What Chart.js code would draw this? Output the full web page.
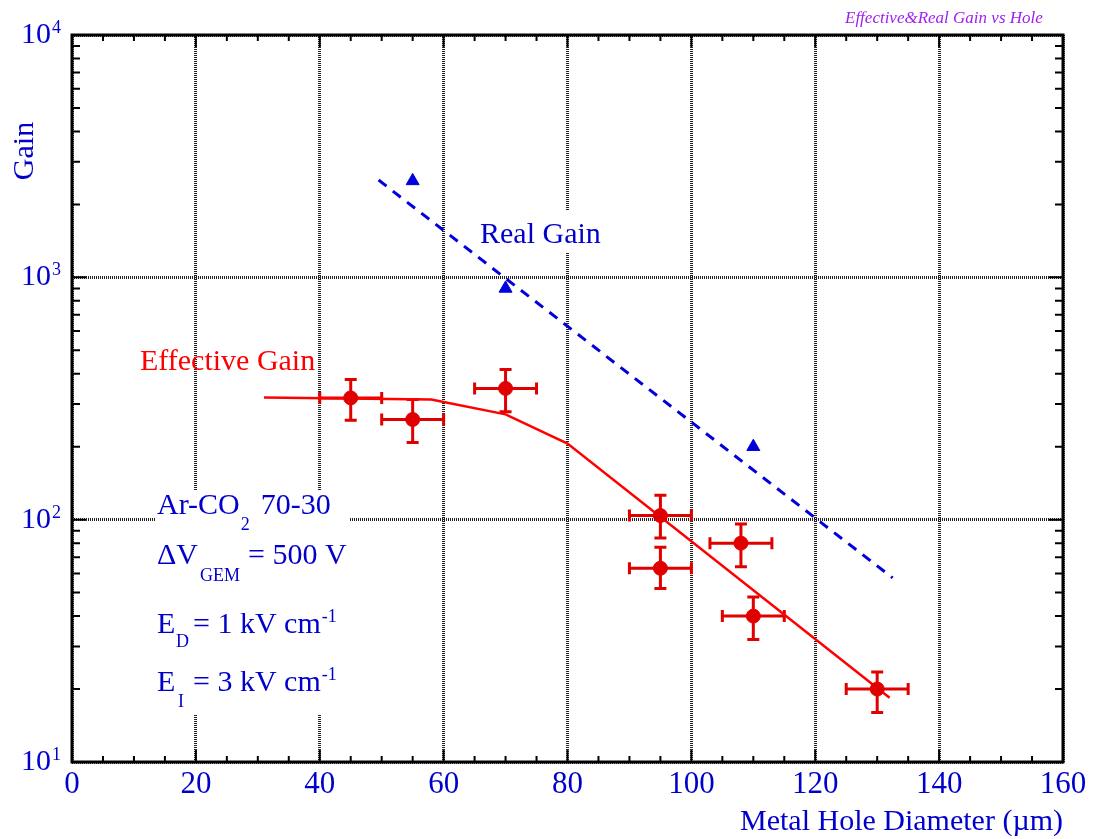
<!DOCTYPE html>
<html>
<head>
<meta charset="utf-8">
<script src="https://cdn.jsdelivr.net/npm/chart.js@4"></script>
<style>
html, body { margin: 0; padding: 0; background: #fff; }
</style>
</head>
<body>
<canvas id="myChart" width="1098" height="839"></canvas>
<script>
// tick labels
const xTicks = [0, 20, 40, 60, 80, 100, 120, 140, 160];
const yTicks = [10, 100, 1000, 10000];

// effective gain measurements (with error bars)
const effX = [45, 55, 70, 95, 95, 108, 110, 130];
const effY = [318, 259, 348, 104, 63, 80, 40, 20];
const effYLo = [257, 208, 279, 84, 52, 64, 32, 16];
const effYHi = [379, 313, 417, 126, 77, 96, 48, 23.5];
const effXErr = [5, 5, 5, 5, 5, 5, 5, 5];

// effective gain model curve
const modelX = [31, 58, 70, 80, 132];
const modelY = [319, 313, 272, 206, 18.4];

// real gain points and fit
const realX = [55, 70, 110];
const realY = [2500, 900, 200];
const fitX = [49.5, 132.5];
const fitY = [2520, 57.5];

const FONT = '"Liberation Serif", "Times New Roman", serif';
const BLUE = '#0000cc';
const RED = 'rgb(225,0,0)';

function pts(xs, ys) {
    return xs.map((x, i) => ({x: x, y: ys[i]}));
}

function txt(ctx, s, x, y, size, color, align, italic) {
    ctx.font = (italic ? 'italic ' : '') + size + 'px ' + FONT;
    ctx.fillStyle = color;
    ctx.textAlign = align || 'left';
    ctx.textBaseline = 'alphabetic';
    ctx.fillText(s, x, y);
    return x + ctx.measureText(s).width;
}

const overlay = {
    id: 'overlay',
    beforeDatasetsDraw(chart) {
        const ctx = chart.ctx;
        const xs = chart.scales.x, ys = chart.scales.y;
        ctx.save();
        // white boxes behind the labels
        ctx.fillStyle = '#fff';
        ctx.fillRect(155, 490, 194, 225);
        ctx.fillRect(472, 210, 136, 43);
        // error bars
        ctx.strokeStyle = RED;
        ctx.lineWidth = 3;
        for (let i = 0; i < effX.length; i++) {
            const px = xs.getPixelForValue(effX[i]);
            const py = ys.getPixelForValue(effY[i]);
            const x1 = xs.getPixelForValue(effX[i] - effXErr[i]);
            const x2 = xs.getPixelForValue(effX[i] + effXErr[i]);
            const y1 = ys.getPixelForValue(effYHi[i]);
            const y2 = ys.getPixelForValue(effYLo[i]);
            ctx.beginPath();
            ctx.moveTo(x1, py); ctx.lineTo(x2, py);
            ctx.moveTo(x1, py - 6); ctx.lineTo(x1, py + 6);
            ctx.moveTo(x2, py - 6); ctx.lineTo(x2, py + 6);
            ctx.moveTo(px, y1); ctx.lineTo(px, y2);
            ctx.moveTo(px - 6, y1); ctx.lineTo(px + 6, y1);
            ctx.moveTo(px - 6, y2); ctx.lineTo(px + 6, y2);
            ctx.stroke();
        }
        ctx.restore();
    },
    afterDraw(chart) {
        const ctx = chart.ctx;
        const a = chart.chartArea;
        const xs = chart.scales.x, ys = chart.scales.y;
        ctx.save();

        // inward ticks
        ctx.strokeStyle = '#000';
        ctx.lineWidth = 2;
        ctx.beginPath();
        for (let v = 0; v <= 160; v += 5) {
            const px = xs.getPixelForValue(v);
            const len = (v % 20 === 0) ? 12 : 6;
            ctx.moveTo(px, a.bottom); ctx.lineTo(px, a.bottom - len);
            ctx.moveTo(px, a.top); ctx.lineTo(px, a.top + len);
        }
        for (let d = 10; d < 10000; d *= 10) {
            for (let m = 1; m <= 10; m++) {
                const py = ys.getPixelForValue(d * m);
                const len = (m === 1 || m === 10) ? 14 : 8;
                ctx.moveTo(a.left, py); ctx.lineTo(a.left + len, py);
                ctx.moveTo(a.right, py); ctx.lineTo(a.right - len, py);
            }
        }
        ctx.stroke();

        // frame
        ctx.lineWidth = 3;
        ctx.strokeRect(a.left, a.top, a.right - a.left, a.bottom - a.top);

        // x tick labels
        xTicks.forEach(v => {
            txt(ctx, String(v), xs.getPixelForValue(v), a.bottom + 31, 31, BLUE, 'center');
        });
        // y tick labels 10^n
        yTicks.forEach(v => {
            const py = ys.getPixelForValue(v);
            txt(ctx, '10', 51, py + 8, 30, BLUE, 'right');
            txt(ctx, String(Math.round(Math.log10(v))), 52, py - 2, 18, BLUE, 'left');
        });

        // axis titles
        txt(ctx, 'Metal Hole Diameter (\u00b5m)', a.right, 830, 30, BLUE, 'right');
        ctx.save();
        ctx.translate(33, 151);
        ctx.rotate(-Math.PI / 2);
        txt(ctx, 'Gain', 0, 0, 30, BLUE, 'center');
        ctx.restore();

        // title
        txt(ctx, 'Effective&Real Gain vs Hole', 845, 23, 17, '#a020f0', 'left', true);

        // curve labels
        txt(ctx, 'Effective Gain', 140, 370, 30, 'rgb(255,0,0)');
        txt(ctx, 'Real Gain', 480, 243, 30, BLUE);

        // conditions
        let x = txt(ctx, 'Ar-CO', 157, 514, 30, BLUE);
        x = txt(ctx, '2', x + 1, 530, 18, BLUE);
        txt(ctx, '70-30', x + 11, 514, 30, BLUE);

        txt(ctx, '\u0394V', 157, 564, 30, BLUE);
        txt(ctx, 'GEM', 200, 581, 18, BLUE);
        txt(ctx, '= 500 V', 248, 564, 30, BLUE);

        txt(ctx, 'E', 157, 633, 30, BLUE);
        txt(ctx, 'D', 176, 647, 18, BLUE);
        x = txt(ctx, '= 1 kV cm', 193, 633, 30, BLUE);
        txt(ctx, '-1', x + 1, 622, 18, BLUE);

        txt(ctx, 'E', 157, 691, 30, BLUE);
        txt(ctx, 'I', 178, 707, 18, BLUE);
        x = txt(ctx, '= 3 kV cm', 193, 691, 30, BLUE);
        txt(ctx, '-1', x + 1, 680, 18, BLUE);

        ctx.restore();
    }
};

const ctx = document.getElementById('myChart').getContext('2d');
new Chart(ctx, {
    type: 'scatter',
    data: {
        datasets: [
            {
                label: 'Effective Gain data',
                data: pts(effX, effY),
                pointStyle: 'circle',
                pointRadius: 7,
                pointBackgroundColor: RED,
                pointBorderColor: RED,
                showLine: false
            },
            {
                label: 'Real Gain data',
                data: pts(realX, realY),
                pointStyle: 'triangle',
                pointRadius: 7.5,
                pointBackgroundColor: '#0000dd',
                pointBorderColor: '#0000dd',
                showLine: false
            },
            {
                label: 'Effective Gain model',
                data: pts(modelX, modelY),
                showLine: true,
                pointRadius: 0,
                borderColor: 'rgb(255,0,0)',
                borderWidth: 2.5,
                tension: 0
            },
            {
                label: 'Real Gain fit',
                data: pts(fitX, fitY),
                showLine: true,
                pointRadius: 0,
                borderColor: '#0000dd',
                borderWidth: 3,
                borderDash: [10, 8]
            }
        ]
    },
    options: {
        responsive: false,
        devicePixelRatio: 1,
        animation: false,
        layout: { padding: { top: 35, right: 35, left: 0, bottom: 0 } },
        plugins: {
            legend: { display: false },
            tooltip: { enabled: false }
        },
        scales: {
            x: {
                type: 'linear',
                min: 0,
                max: 160,
                ticks: { display: false, stepSize: 20 },
                afterBuildTicks: scale => { scale.ticks = xTicks.map(v => ({value: v})); },
                afterFit: scale => { scale.height = 77; },
                grid: { color: '#222', lineWidth: 3, drawTicks: false },
                border: { display: false, dash: [1, 1] }
            },
            y: {
                type: 'logarithmic',
                min: 10,
                max: 10000,
                ticks: { display: false },
                afterBuildTicks: scale => { scale.ticks = yTicks.map(v => ({value: v})); },
                afterFit: scale => { scale.width = 72; },
                grid: { color: '#222', lineWidth: 3, drawTicks: false },
                border: { display: false, dash: [1, 1] }
            }
        }
    },
    plugins: [overlay]
});
</script>
</body>
</html>
